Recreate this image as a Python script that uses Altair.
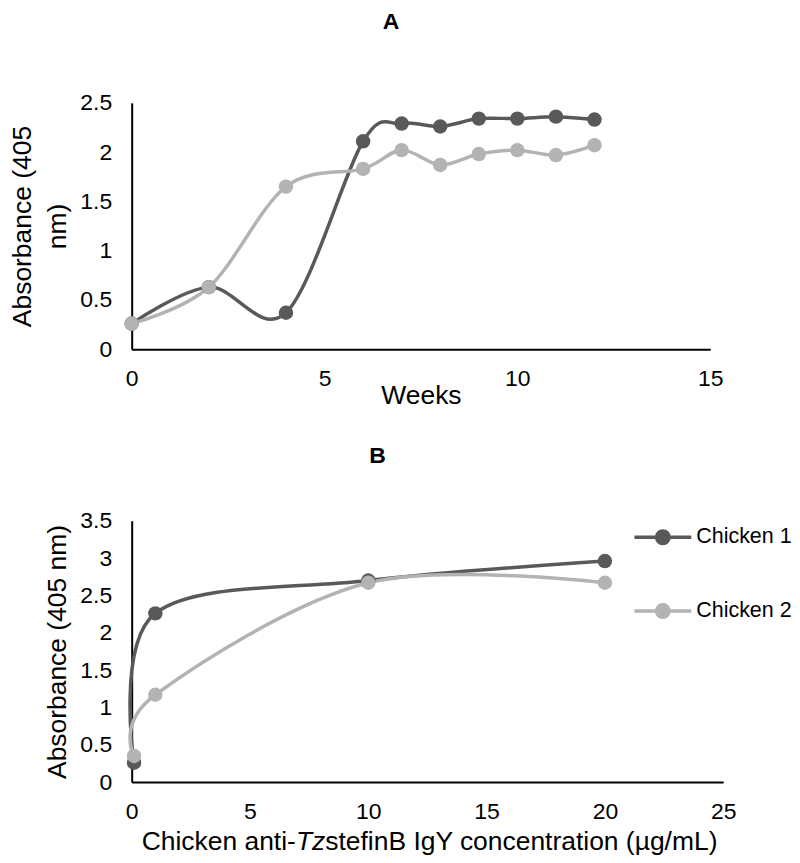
import altair as alt
import pandas as pd

# ---------------- data ----------------
weeks = [0, 2, 4, 6, 7, 8, 9, 10, 11, 12]
weekly_chicken1 = [0.26, 0.63, 0.37, 2.11, 2.29, 2.26, 2.34, 2.34, 2.36, 2.33]
weekly_chicken2 = [0.26, 0.63, 1.65, 1.83, 2.02, 1.87, 1.98, 2.02, 1.97, 2.07]

concentrations = [0.1, 1, 10, 20]
conc_chicken1 = [0.26, 2.26, 2.70, 2.96]
conc_chicken2 = [0.35, 1.17, 2.67, 2.67]

series_names = ["Chicken 1", "Chicken 2"]
series_colors = ["#595959", "#b3b3b3"]

x_ticks_a = [0, 5, 10, 15]
y_ticks_a = [0, 0.5, 1, 1.5, 2, 2.5]
x_ticks_b = [0, 5, 10, 15, 20, 25]
y_ticks_b = [0, 0.5, 1, 1.5, 2, 2.5, 3, 3.5]

title_b_parts = ["Chicken anti-", "Tz", "stefinB IgY concentration (µg/mL)"]

# ---------------- tables ----------------
df_a = pd.DataFrame({
    "week": weeks + weeks,
    "absorbance": weekly_chicken1 + weekly_chicken2,
    "series": [series_names[0]] * len(weeks) + [series_names[1]] * len(weeks),
})
df_b = pd.DataFrame({
    "conc": concentrations + concentrations,
    "absorbance": conc_chicken1 + conc_chicken2,
    "series": [series_names[0]] * len(concentrations) + [series_names[1]] * len(concentrations),
})

FONT = "Liberation Sans"
TICK_FS = 23
TITLE_FS = 26.5
LINE_W = 3.5
PT_SIZE = 210

color_scale = alt.Scale(domain=series_names, range=series_colors)

# ---------------- panel A ----------------
xa = alt.X("week:Q", scale=alt.Scale(domain=[0, 15], nice=False),
           axis=alt.Axis(values=x_ticks_a, title="Weeks", titleY=33))
ya = alt.Y("absorbance:Q", scale=alt.Scale(domain=[0, 2.5], nice=False),
           axis=alt.Axis(values=y_ticks_a, format="~g", labelPadding=20,
                         title=["Absorbance (405", "nm)"], titleLineHeight=35,
                         titlePadding=8))
base_a = alt.Chart(df_a).encode(x=xa, y=ya)
chart_a = alt.layer(
    base_a.mark_line(interpolate="cardinal", strokeWidth=LINE_W).encode(
        stroke=alt.Stroke("series:N", scale=color_scale, legend=None)),
    base_a.mark_circle(size=PT_SIZE, opacity=1).encode(
        color=alt.Color("series:N", scale=color_scale, legend=None)),
).properties(
    width=580, height=247,
    title=alt.TitleParams("A", fontSize=23, fontWeight="bold", font=FONT,
                          frame="group", dx=-30, offset=58),
)

# ---------------- panel B ----------------
sym_path = "M-1,0L1,0M0.22,0A0.22,0.22,0,1,1,-0.22,0A0.22,0.22,0,1,1,0.22,0Z"


def make_legend():
    return alt.Legend(
        orient="none", legendX=502, legendY=-14, title=None,
        symbolType=sym_path, symbolSize=3249, symbolStrokeWidth=LINE_W,
        symbolOpacity=1,
        labelFontSize=21.5, labelFont=FONT, labelColor="#000000", labelOffset=3,
        rowPadding=30, padding=0,
    )


xb = alt.X("conc:Q", scale=alt.Scale(domain=[0, 25], nice=False),
           axis=alt.Axis(values=x_ticks_b), title=None)
yb = alt.Y("absorbance:Q", scale=alt.Scale(domain=[0, 3.5], nice=False),
           axis=alt.Axis(values=y_ticks_b, format="~g", labelPadding=20,
                         title="Absorbance (405 nm)", titlePadding=8))
base_b = alt.Chart(df_b).encode(x=xb, y=yb)

W_B, H_B = 593, 262
em = TITLE_FS
x0 = 10
x1 = x0 + 5.835 * em
x2 = x1 + 1.111 * em
title_layers = []
for txt, xp, style in zip(title_b_parts, [x0, x1, x2], ["normal", "italic", "normal"]):
    title_layers.append(
        alt.Chart(pd.DataFrame({"t": [txt]})).mark_text(
            align="left", baseline="alphabetic", fontSize=TITLE_FS, font=FONT,
            fontStyle=style, color="#000000",
        ).encode(text="t:N", x=alt.value(xp), y=alt.value(H_B + 68))
    )

chart_b = alt.layer(
    base_b.mark_line(interpolate="cardinal", strokeWidth=LINE_W).encode(
        stroke=alt.Stroke("series:N", scale=color_scale, legend=make_legend())),
    base_b.mark_circle(size=PT_SIZE, opacity=1).encode(
        color=alt.Color("series:N", scale=color_scale, legend=make_legend())),
    *title_layers,
).properties(
    width=W_B, height=H_B,
    title=alt.TitleParams("B", fontSize=23, fontWeight="bold", font=FONT,
                          frame="group", dx=-50, offset=39),
)

chart = alt.vconcat(chart_a, chart_b, spacing=36).resolve_scale(
    color="independent", stroke="independent"
).resolve_legend(
    color="independent", stroke="independent"
).properties(
    padding={"left": 2, "top": 2, "right": 0, "bottom": 0}
).configure_view(stroke=None).configure_axis(
    grid=False, ticks=False, tickSize=0, domainColor="#000000", domainWidth=2,
    labelFont=FONT, labelFontSize=TICK_FS, labelColor="#000000", labelPadding=18,
    titleFont=FONT, titleFontSize=TITLE_FS, titleColor="#000000", titleFontWeight="normal",
    labelFlush=False, labelOverlap=False,
)

chart.save("out.html", embed_options={"renderer": "svg", "actions": False})
